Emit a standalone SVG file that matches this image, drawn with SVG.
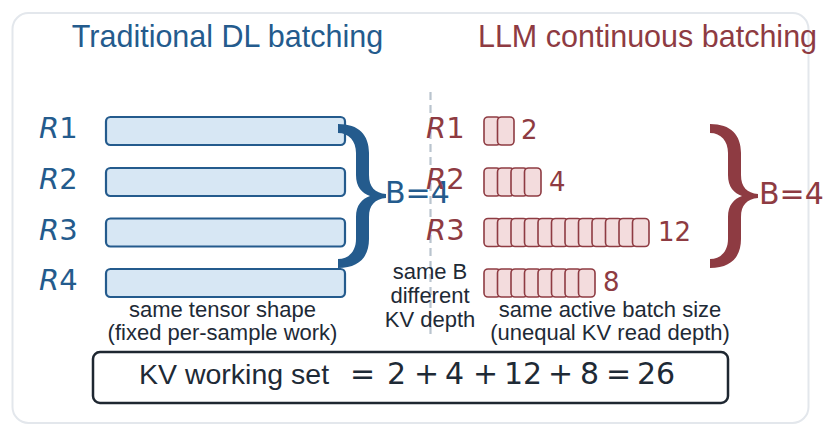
<svg xmlns="http://www.w3.org/2000/svg" width="828" height="437" viewBox="0 0 828 437">
<style>
.title{font-family:"Liberation Sans",Arial,sans-serif;font-size:30.5px;text-anchor:middle}
.blue{fill:#245b8d}
.red{fill:#8e3b42}
.dark{fill:#1e2a36}
.rl{font-family:"DejaVu Sans",sans-serif;font-size:29px}
.num{font-family:"DejaVu Sans",sans-serif;font-size:26px}
.cap{font-family:"Liberation Sans",Arial,sans-serif;font-size:22px;text-anchor:middle}
.bar{fill:#d7e7f4;stroke:#245b8d;stroke-width:2.2}
.cell{fill:#f3dcdd;stroke:#8e3b42;stroke-width:1.6}
.beq{font-family:"DejaVu Sans",sans-serif;font-size:30px}
.math{font-family:"DejaVu Sans",sans-serif;font-size:30px}
</style>
<defs>
<path id="brace" d="M0,-5 C21,-5 31,6 31,24 L31,46 C31,58 37,64 48,65 L48,69 C37,70 31,76 31,88 L31,110 C31,128 21,139 0,139 L0,130 C11,130 18,122 18,110 L18,88 C18,76 24,70 32,67 C24,64 18,58 18,46 L18,24 C18,12 11,4 0,4 Z"/>
</defs>
<rect x="12.5" y="13" width="796" height="410" rx="16" fill="#ffffff" stroke="#e3e7ec" stroke-width="2"/>
<g id="connectors">
<line x1="430.5" y1="92" x2="430.5" y2="337" stroke="#b9c4ce" stroke-width="2.2" stroke-dasharray="8,5"/>
</g>
<g id="title-left"><text class="title blue" x="227.5" y="47">Traditional DL batching</text></g>
<g id="title-right"><text class="title red" x="647.5" y="47">LLM continuous batching</text></g>
<g id="left-rows">
<text class="rl blue" x="39" y="138"><tspan font-style="italic">R</tspan>1</text>
<text class="rl blue" x="39" y="189"><tspan font-style="italic">R</tspan>2</text>
<text class="rl blue" x="39" y="239.5"><tspan font-style="italic">R</tspan>3</text>
<text class="rl blue" x="39" y="290"><tspan font-style="italic">R</tspan>4</text>
<rect class="bar" x="106" y="117" width="239" height="28" rx="4.5"/>
<rect class="bar" x="106" y="168" width="239" height="28" rx="4.5"/>
<rect class="bar" x="106" y="218.5" width="239" height="28" rx="4.5"/>
<rect class="bar" x="106" y="269" width="239" height="28" rx="4.5"/>
</g>
<g id="brace-left">
<use href="#brace" x="338" y="129" fill="#245b8d"/>
<text class="beq blue" x="385" y="203">B=4</text>
</g>
<g id="caption-left">
<text class="cap dark" x="222.5" y="317">same tensor shape</text>
<text class="cap dark" x="222.5" y="340">(fixed per-sample work)</text>
</g>
<g id="caption-mid">
<text class="cap dark" x="430" y="279">same B</text>
<text class="cap dark" x="430" y="303">different</text>
<text class="cap dark" x="430" y="327">KV depth</text>
</g>
<g id="right-rows">
<text class="rl red" x="426" y="138"><tspan font-style="italic">R</tspan>1</text>
<text class="rl red" x="426" y="189"><tspan font-style="italic">R</tspan>2</text>
<text class="rl red" x="426" y="239.5"><tspan font-style="italic">R</tspan>3</text>
<g id="r1-cells">
<rect class="cell" x="484" y="117" width="16.5" height="28" rx="4"/>
<rect class="cell" x="497.5" y="117" width="16.5" height="28" rx="4"/>
</g>
<text class="num red" x="521" y="139">2</text>
<g id="r2-cells">
<rect class="cell" x="484" y="168" width="16.5" height="28" rx="4"/>
<rect class="cell" x="497.5" y="168" width="16.5" height="28" rx="4"/>
<rect class="cell" x="511" y="168" width="16.5" height="28" rx="4"/>
<rect class="cell" x="524.5" y="168" width="16.5" height="28" rx="4"/>
</g>
<text class="num red" x="549" y="191">4</text>
<g id="r3-cells">
<rect class="cell" x="484" y="218.5" width="16.5" height="28" rx="4"/>
<rect class="cell" x="497.5" y="218.5" width="16.5" height="28" rx="4"/>
<rect class="cell" x="511" y="218.5" width="16.5" height="28" rx="4"/>
<rect class="cell" x="524.5" y="218.5" width="16.5" height="28" rx="4"/>
<rect class="cell" x="538" y="218.5" width="16.5" height="28" rx="4"/>
<rect class="cell" x="551.5" y="218.5" width="16.5" height="28" rx="4"/>
<rect class="cell" x="565" y="218.5" width="16.5" height="28" rx="4"/>
<rect class="cell" x="578.5" y="218.5" width="16.5" height="28" rx="4"/>
<rect class="cell" x="592" y="218.5" width="16.5" height="28" rx="4"/>
<rect class="cell" x="605.5" y="218.5" width="16.5" height="28" rx="4"/>
<rect class="cell" x="619" y="218.5" width="16.5" height="28" rx="4"/>
<rect class="cell" x="632.5" y="218.5" width="16.5" height="28" rx="4"/>
</g>
<text class="num red" x="658" y="241">12</text>
<g id="r4-cells">
<rect class="cell" x="484" y="269" width="16.5" height="28" rx="4"/>
<rect class="cell" x="497.5" y="269" width="16.5" height="28" rx="4"/>
<rect class="cell" x="511" y="269" width="16.5" height="28" rx="4"/>
<rect class="cell" x="524.5" y="269" width="16.5" height="28" rx="4"/>
<rect class="cell" x="538" y="269" width="16.5" height="28" rx="4"/>
<rect class="cell" x="551.5" y="269" width="16.5" height="28" rx="4"/>
<rect class="cell" x="565" y="269" width="16.5" height="28" rx="4"/>
<rect class="cell" x="578.5" y="269" width="16.5" height="28" rx="4"/>
</g>
<text class="num red" x="603" y="291">8</text>
</g>
<g id="brace-right">
<use href="#brace" x="710" y="129" fill="#8e3b42"/>
<text class="beq red" x="759" y="204">B=4</text>
</g>
<g id="caption-right">
<text class="cap dark" x="610" y="317">same active batch size</text>
<text class="cap dark" x="610" y="340">(unequal KV read depth)</text>
</g>
<g id="kv-box">
<rect x="93" y="352" width="635" height="51" rx="7" fill="#ffffff" stroke="#1e2731" stroke-width="2.5"/>
<text class="dark" font-family="Liberation Sans, Arial, sans-serif" font-size="28.5" x="139" y="384">KV working set</text>
<text class="math dark" y="384"><tspan x="350">=</tspan><tspan x="387">2</tspan><tspan x="414">+</tspan><tspan x="445">4</tspan><tspan x="473">+</tspan><tspan x="504">12</tspan><tspan x="548">+</tspan><tspan x="580">8</tspan><tspan x="606">=</tspan><tspan x="637">26</tspan></text>
</g>
</svg>
